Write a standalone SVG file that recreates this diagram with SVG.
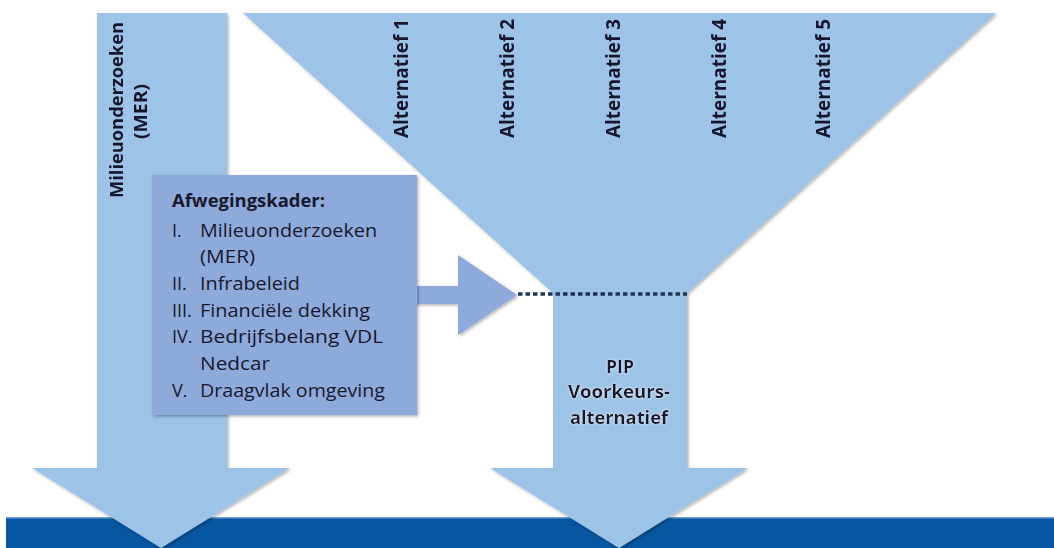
<svg xmlns="http://www.w3.org/2000/svg" width="1054" height="548" viewBox="0 0 1054 548">
  <defs>
    <filter id="sh" x="-10%" y="-10%" width="120%" height="120%">
      <feDropShadow dx="1.5" dy="1.5" stdDeviation="1.5" flood-color="#000" flood-opacity="0.3"/>
    </filter>
    <filter id="glow" x="-20%" y="-40%" width="140%" height="180%">
      <feGaussianBlur in="SourceAlpha" stdDeviation="1.6" result="b"/>
      <feFlood flood-color="#ffffff" flood-opacity="0.8"/>
      <feComposite in2="b" operator="in" result="g"/>
      <feMerge><feMergeNode in="g"/><feMergeNode in="SourceGraphic"/></feMerge>
    </filter>
    <style>
      .lb { fill: #9dc3e6; }
      .mb { fill: #8eaadb; }
      .t { font-family: "Open Sans", "Liberation Sans", sans-serif; fill: #18182e; }
      .b { font-weight: bold; }
      .r { font-size: 18px; }
      .alt { font-size: 19.5px; font-weight: bold; }
    </style>
  </defs>
  <rect width="1054" height="548" fill="#ffffff"/>

  <g id="bar">
    <rect x="6" y="518" width="1048" height="30" fill="#0756a1"/>
    <rect x="6" y="517" width="1048" height="1.5" fill="#6f9fcf"/>
  </g>

  <g id="mer-arrow" filter="url(#sh)">
    <polygon class="lb" points="97,13 227,13 227,468 290,468 161,548 32,468 97,468"/>
    <text class="t b" font-size="18" transform="translate(123,198) rotate(-90)" textLength="176" lengthAdjust="spacingAndGlyphs">Milieuonderzoeken</text>
    <text class="t b" font-size="18" transform="translate(147,139) rotate(-90)" textLength="55" lengthAdjust="spacingAndGlyphs">(MER)</text>
  </g>

  <g id="funnel" filter="url(#sh)">
    <polygon class="lb" points="243,13 996,13 687,293 687,468 748,468 619,548 490,468 553,468 553,293"/>
    <text class="t alt" transform="translate(408,138) rotate(-90)" textLength="119" lengthAdjust="spacingAndGlyphs">Alternatief 1</text>
    <text class="t alt" transform="translate(514,138) rotate(-90)" textLength="119" lengthAdjust="spacingAndGlyphs">Alternatief 2</text>
    <text class="t alt" transform="translate(620,138) rotate(-90)" textLength="119" lengthAdjust="spacingAndGlyphs">Alternatief 3</text>
    <text class="t alt" transform="translate(726,138) rotate(-90)" textLength="119" lengthAdjust="spacingAndGlyphs">Alternatief 4</text>
    <text class="t alt" transform="translate(830,138) rotate(-90)" textLength="119" lengthAdjust="spacingAndGlyphs">Alternatief 5</text>
  </g>

  <g id="pip">
    <g filter="url(#glow)">
      <text class="t b" font-size="17.5" text-anchor="middle" x="620" y="373">PIP</text>
      <text class="t b" font-size="17.5" x="568" y="398" textLength="102" lengthAdjust="spacingAndGlyphs">Voorkeurs-</text>
      <text class="t b" font-size="17.5" x="570" y="424" textLength="98" lengthAdjust="spacingAndGlyphs">alternatief</text>
    </g>
  </g>

  <g id="connectors">
    <polygon class="mb" filter="url(#sh)" points="412,286 458,286 458,255 517,295 458,335 458,304 412,304"/>
    <line x1="518" y1="294" x2="687" y2="294" stroke="#1f3556" stroke-width="3.5" stroke-dasharray="4.5,3"/>
  </g>

  <g id="afwegingskader">
    <rect class="mb" x="152" y="175" width="265" height="240" filter="url(#sh)"/>
    <text class="t b" font-size="18.5" x="172" y="207" textLength="153" lengthAdjust="spacingAndGlyphs">Afwegingskader:</text>
    <g class="t r">
      <text x="172" y="237">I.</text>
      <text x="200" y="237" textLength="177" lengthAdjust="spacingAndGlyphs">Milieuonderzoeken</text>
      <text x="200" y="263" textLength="55" lengthAdjust="spacingAndGlyphs">(MER)</text>
      <text x="172" y="290">II.</text>
      <text x="200" y="290" textLength="100" lengthAdjust="spacingAndGlyphs">Infrabeleid</text>
      <text x="172" y="317">III.</text>
      <text x="200" y="317" textLength="170" lengthAdjust="spacingAndGlyphs">Financiële dekking</text>
      <text x="172" y="343">IV.</text>
      <text x="200" y="343" textLength="183" lengthAdjust="spacingAndGlyphs">Bedrijfsbelang VDL</text>
      <text x="200" y="370" textLength="70" lengthAdjust="spacingAndGlyphs">Nedcar</text>
      <text x="172" y="397">V.</text>
      <text x="200" y="397" textLength="185" lengthAdjust="spacingAndGlyphs">Draagvlak omgeving</text>
    </g>
  </g>
</svg>
